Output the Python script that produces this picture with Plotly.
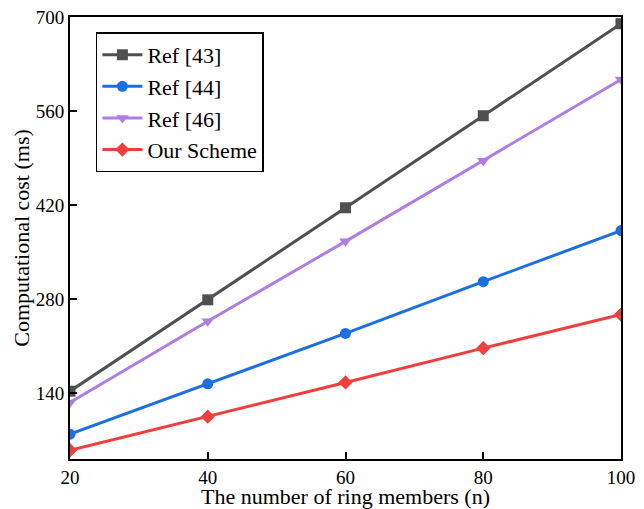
import plotly.graph_objects as go

n_members = [20, 40, 60, 80, 100]
ref43 = [143, 279, 416, 553, 690]
ref44 = [79, 154, 229, 306, 382]
ref46 = [126, 247, 366, 486, 607]
ours = [55, 105, 156, 207, 257]

series = [
    ("Ref [43]", ref43, "#505050", "square"),
    ("Ref [44]", ref44, "#1c6fe0", "circle"),
    ("Ref [46]", ref46, "#b07ee2", "triangle-down"),
    ("Our Scheme", ours, "#ee3e3e", "diamond"),
]

fig = go.Figure()
for name, vals, color, sym in series:
    fig.add_trace(go.Scatter(
        x=n_members, y=vals, name=name, mode="lines+markers",
        line=dict(color=color, width=3),
        marker=dict(symbol=sym, size=11, color=color),
    ))

font_family = "Liberation Serif, Times New Roman, serif"
axis_common = dict(
    showline=True, linecolor="black", linewidth=2, mirror=True,
    ticks="inside", ticklen=7, tickwidth=2, tickcolor="black",
    showgrid=False, zeroline=False, automargin=False,
    ticklabeloverflow="allow",
    tickfont=dict(family=font_family, size=19, color="black"),
)
fig.update_xaxes(
    range=[20, 100], tickvals=[20, 40, 60, 80, 100],
    title=dict(text="The number of ring members (n)", font=dict(family=font_family, size=22, color="black"), standoff=8),
    **axis_common,
)
fig.update_yaxes(
    range=[42, 700], tickvals=[140, 280, 420, 560, 700],
    title=dict(text="Computational cost (ms)", font=dict(family=font_family, size=22, color="black"), standoff=0),
    **axis_common,
)
fig.update_layout(
    width=644, height=509,
    margin=dict(l=70, r=23, t=17, b=50),
    plot_bgcolor="white", paper_bgcolor="white",
    font=dict(family=font_family, color="black"),
    legend=dict(
        x=0.047, y=0.965, xanchor="left", yanchor="top",
        bordercolor="black", borderwidth=1.5, bgcolor="white",
        font=dict(family=font_family, size=22, color="black"),
        tracegroupgap=0, itemwidth=40,
    ),
    showlegend=True,
)
fig.write_html(
    "out.html",
    config={"displayModeBar": False},
    post_script="document.body.style.margin='0';document.body.style.overflow='hidden';",
)
